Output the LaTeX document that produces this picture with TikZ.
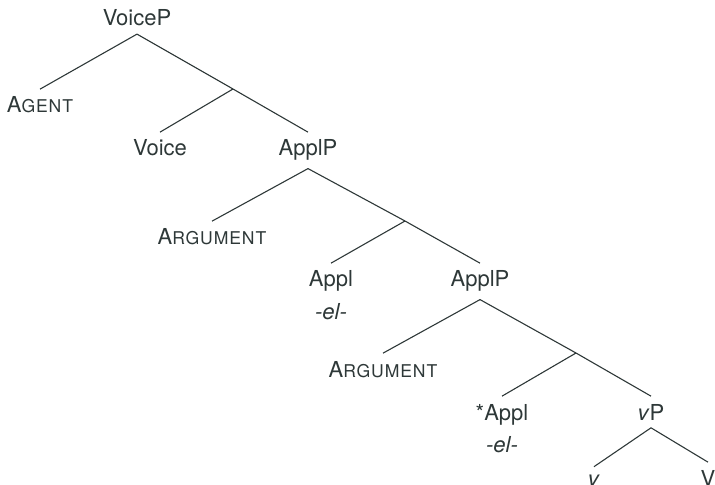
\documentclass[tikz,border=0pt]{standalone}
\usepackage{fontspec}
\setmainfont{TeX Gyre Heros}
\definecolor{ink}{HTML}{2E3838}
\newcommand\fakesc[2]{#1{\fontsize{8.8}{10}\selectfont\addfontfeature{LetterSpace=5}#2}}
\begin{document}
\begin{tikzpicture}[x=0.5pt,y=-0.5pt,
  font=\fontsize{11}{13}\selectfont,
  lbl/.style={anchor=base, inner xsep=2pt, inner ysep=3.7pt, text=ink},
  edge/.style={draw=ink, line width=0.55pt}]
\useasboundingbox (0,0) rectangle (715,485);
% level 1
\node[lbl] (VoiceP) at (137,26) {VoiceP};
\node[lbl] (Agent) at (40,113) {\fakesc{A}{GENT}};
\coordinate (J1) at (233,89);
\node[lbl] (Voice) at (160,156) {Voice};
\node[lbl] (ApplP1) at (308,156) {ApplP};
% level 2
\node[lbl] (Arg1) at (212,245) {\fakesc{A}{RGUMENT}};
\coordinate (J2) at (405,221);
\node[lbl] (Appl1) at (331,287) {Appl};
\node[lbl] (El1) at (331,320) {\textit{-el-}};
\node[lbl] (ApplP2) at (480,287) {ApplP};
% level 3
\node[lbl] (Arg2) at (383,377) {\fakesc{A}{RGUMENT}};
\coordinate (J3) at (576,353);
\node[lbl] (Appl2) at (502,420) {*Appl};
\node[lbl] (El2) at (502,452) {\textit{-el-}};
\node[lbl] (vP) at (651,420) {\textit{v}P};
\node[lbl] (v) at (594,486) {\textit{v}};
\node[lbl] (V) at (708,486) {V};
% edges
\draw[edge] (VoiceP.south) -- (Agent.north);
\draw[edge] (VoiceP.south) -- (J1) -- (ApplP1.north);
\draw[edge] (J1) -- (Voice.north);
\draw[edge] (ApplP1.south) -- (Arg1.north);
\draw[edge] (ApplP1.south) -- (J2) -- (ApplP2.north);
\draw[edge] (J2) -- (Appl1.north);
\draw[edge] (ApplP2.south) -- (Arg2.north);
\draw[edge] (ApplP2.south) -- (J3) -- (vP.north);
\draw[edge] (J3) -- (Appl2.north);
\draw[edge] (vP.south) -- (v.north);
\draw[edge] (vP.south) -- (V.north);
\end{tikzpicture}
\end{document}
